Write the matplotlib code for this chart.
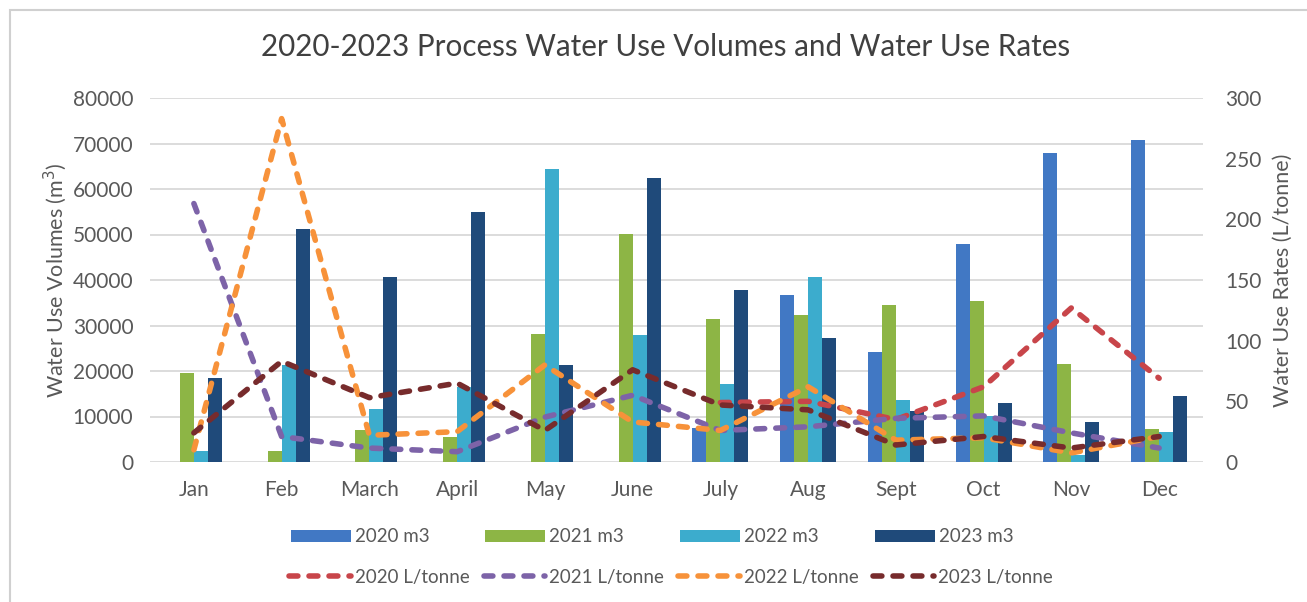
import numpy as np
import matplotlib.pyplot as plt
from matplotlib.patches import Rectangle

months = ['Jan', 'Feb', 'March', 'April', 'May', 'June', 'July', 'Aug', 'Sept', 'Oct', 'Nov', 'Dec']

# monthly volumes, m3
vol_2020 = [0, 0, 0, 0, 0, 0, 7400, 36600, 24100, 47900, 68000, 70800]
vol_2021 = [19600, 2400, 7000, 5600, 28100, 50100, 31400, 32300, 34600, 35400, 21500, 7200]
vol_2022 = [2400, 21300, 11600, 16500, 64500, 27900, 17100, 40600, 13600, 10100, 1500, 6700]
vol_2023 = [18400, 51200, 40600, 54900, 21400, 62500, 37700, 27200, 11200, 12900, 8900, 14400]

# monthly rates, L/tonne
rate_2020 = [np.nan, np.nan, np.nan, np.nan, np.nan, np.nan, 49, 50, 35, 62, 127, 69]
rate_2021 = [213, 21, 11.5, 8.5, 37, 55, 26, 29, 36, 38, 24, 11.5]
rate_2022 = [10, 283, 22, 25, 80, 33, 26, 62, 18, 20, 7.5, 21]
rate_2023 = [24, 83, 53, 65, 26, 76, 47, 43, 14, 21, 11.5, 21]

bar_colors = ['#4178c4', '#8db545', '#3caccd', '#1f4a7a']
line_colors = ['#c8454a', '#7d63a8', '#f7923a', '#772b2c']
grey = '#595959'

plt.rcParams['font.family'] = ['Lato', 'DejaVu Sans']

fig = plt.figure(figsize=(13.07, 6.02), dpi=100)
ax = fig.add_axes([150 / 1307, 1 - 462 / 602, (1203 - 150) / 1307, (462 - 98) / 602])
ax2 = ax.twinx()

x = np.arange(len(months))
w = 0.16
volumes = [vol_2020, vol_2021, vol_2022, vol_2023]
rates = [rate_2020, rate_2021, rate_2022, rate_2023]
years = ['2020', '2021', '2022', '2023']

bar_handles = []
for i, (vals, c, yr) in enumerate(zip(volumes, bar_colors, years)):
    h = ax.bar(x + (i - 1.5) * w, vals, width=w, color=c, label=yr + ' m3', zorder=2)
    bar_handles.append(h)

line_handles = []
for vals, c, yr in zip(rates, line_colors, years):
    ln, = ax2.plot(x, vals, color=c, lw=4, dashes=(1.6, 2.0),
                   dash_capstyle='round', label=yr + ' L/tonne')
    line_handles.append(ln)

ax.set_xlim(-0.5, 11.5)
ax.set_ylim(0, 80000)
ax.set_yticks(np.arange(0, 80001, 10000))
ax2.set_ylim(0, 300)
ax2.set_yticks(np.arange(0, 301, 50))
ax.set_xticks(x)
ax.set_xticklabels(months)

ax.yaxis.grid(True, color='#d9d9d9', lw=1.3, zorder=0)
ax.set_axisbelow(True)
for a in (ax, ax2):
    for s in a.spines.values():
        s.set_visible(False)
    a.tick_params(length=0, labelsize=15, labelcolor=grey)
ax.tick_params(axis='y', pad=12)
ax.tick_params(axis='x', pad=13)
ax2.tick_params(axis='y', pad=16)

ax.set_ylabel('Water Use Volumes (m$^3$)', fontsize=15.5, color=grey, labelpad=3)
ax2.set_ylabel('Water Use Rates (L/tonne)', fontsize=15.5, color=grey, rotation=90, labelpad=8)

fig.text(666 / 1307, 1 - 47 / 602, '2020-2023 Process Water Use Volumes and Water Use Rates',
         ha='center', va='center', fontsize=21.3, color='#404040')

fig.legend(handles=bar_handles, loc='center', bbox_to_anchor=(652 / 1307, 1 - 537 / 602),
           ncol=4, frameon=False, fontsize=13.5, handlelength=3.2, handleheight=0.6,
           handletextpad=0.2, columnspacing=3.0, labelcolor=grey)
fig.legend(handles=line_handles, loc='center', bbox_to_anchor=(671 / 1307, 1 - 577 / 602),
           ncol=4, frameon=False, fontsize=13.5, handlelength=3.3,
           handletextpad=0.2, columnspacing=0.75, labelcolor=grey)

# outer chart border
fig.patches.append(Rectangle((10 / 1307, -0.02), 1.1, 1 - 10 / 602 + 0.02,
                             transform=fig.transFigure, fill=False,
                             edgecolor='#d0d0d0', lw=1.5))

fig.savefig('out.png', dpi=100)
